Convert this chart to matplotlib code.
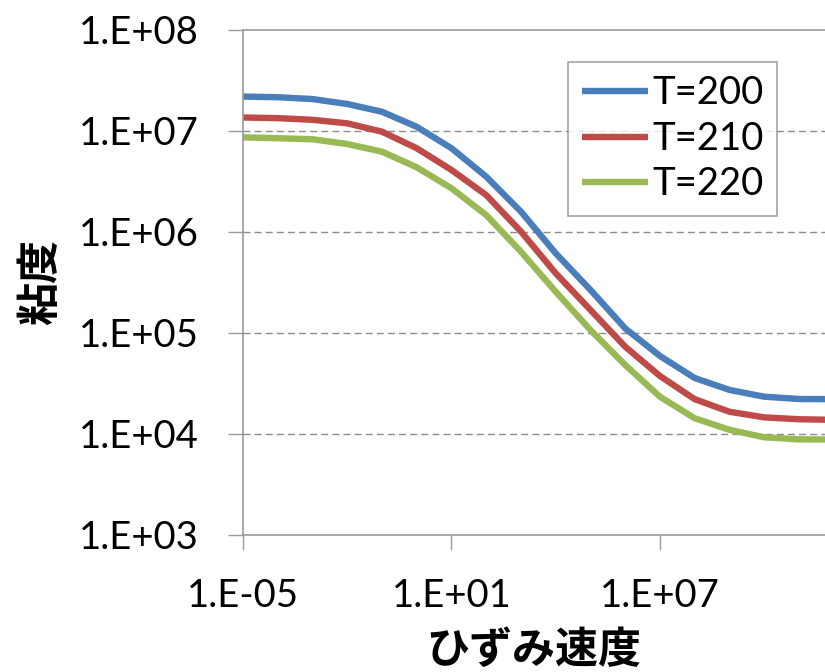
#Viscosity vs strain rate
#for three temperatures (log-log)
import numpy as np
import matplotlib.pyplot as plt
from matplotlib.ticker import FixedLocator, FuncFormatter, NullLocator

#Data: strain rate (1/s) and viscosity
rate = [1e-5, 1e-4, 1e-3, 1e-2, 1e-1, 1e0, 1e1, 1e2, 1e3,
        1e4, 1e5, 1e6, 1e7, 1e8, 1e9, 1e10, 1e11, 1e12]
eta_200 = [2.19e7, 2.16e7, 2.07e7, 1.85e7, 1.55e7, 1.10e7, 6.75e6, 3.53e6, 1.59e6,
           6.15e5, 2.67e5, 1.11e5, 5.92e4, 3.58e4, 2.73e4, 2.34e4, 2.22e4, 2.21e4]
eta_210 = [1.36e7, 1.34e7, 1.29e7, 1.19e7, 9.84e6, 6.75e6, 4.11e6, 2.32e6, 1.01e6,
           3.90e5, 1.69e5, 7.31e4, 3.75e4, 2.21e4, 1.66e4, 1.46e4, 1.40e4, 1.38e4]
eta_220 = [8.65e6, 8.47e6, 8.28e6, 7.43e6, 6.24e6, 4.37e6, 2.71e6, 1.47e6, 6.38e5,
           2.56e5, 1.07e5, 4.82e4, 2.34e4, 1.43e4, 1.10e4, 9.27e3, 8.85e3, 8.81e3]
labels = ['T=200', 'T=210', 'T=220']
colors = ['#4A7EBB', '#BE4B48', '#98B954']
xticks = [1e-5, 1e1, 1e7]
yticks = [1e3, 1e4, 1e5, 1e6, 1e7, 1e8]

plt.rcParams['font.family'] = ['Lato', 'Noto Sans CJK JP']
fig = plt.figure(figsize=(8.25, 6.72), dpi=100)
ax = fig.add_axes([0.2945, 0.2039, 0.7055, 0.7515])

for eta, lab, c in zip([eta_200, eta_210, eta_220], labels, colors):
    ax.plot(rate, eta, color=c, linewidth=4.6, label=lab, solid_capstyle='butt')

ax.set_xscale('log')
ax.set_yscale('log')
ax.set_xlim(1e-5, 10**11.75)
ax.set_ylim(1e3, 1e8)

fmt = FuncFormatter(lambda v, p: '1.E%+03d' % int(round(np.log10(v))))
ax.xaxis.set_major_locator(FixedLocator(xticks))
ax.yaxis.set_major_locator(FixedLocator(yticks))
ax.xaxis.set_minor_locator(NullLocator())
ax.yaxis.set_minor_locator(NullLocator())
ax.xaxis.set_major_formatter(fmt)
ax.yaxis.set_major_formatter(fmt)
ax.tick_params(axis='both', direction='out', length=11, width=1,
               color='#9a9a9a', labelsize=27.5)
ax.tick_params(axis='y', pad=21)
ax.tick_params(axis='x', pad=20)

for yv in yticks[1:-1]:
    ax.axhline(yv, color='#8c8c8c', linestyle=(0, (5, 3)), linewidth=1, zorder=0)

for s in ['left', 'bottom', 'top']:
    ax.spines[s].set_color('#9a9a9a')
    ax.spines[s].set_linewidth(1.2)
ax.spines['right'].set_visible(False)

ax.set_ylabel('粘度', family='Noto Sans CJK JP', fontsize=31,
              fontweight='bold', labelpad=12)
ax.set_xlabel('ひずみ速度', family='Noto Sans CJK JP', fontsize=31,
              fontweight='bold', labelpad=10)

leg = fig.legend(loc='upper right', bbox_to_anchor=(0.9418, 0.9077),
                 fontsize=27.5, frameon=True, fancybox=False, borderaxespad=0,
                 handlelength=1.75, handletextpad=0.1, labelspacing=0.25,
                 borderpad=0.35)
leg.get_frame().set_edgecolor('#8c8c8c')
leg.get_frame().set_linewidth(1.2)

fig.savefig('out.png', dpi=100)
